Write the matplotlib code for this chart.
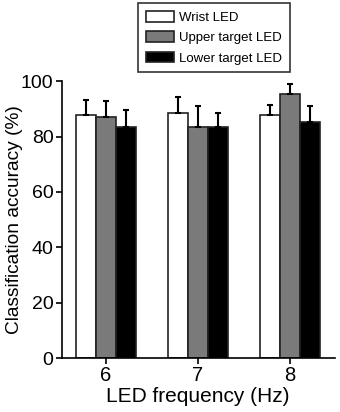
import numpy as np
import matplotlib.pyplot as plt
from matplotlib.patches import Patch

plt.rcParams['font.family'] = ['Liberation Sans', 'DejaVu Sans']

# 数据
freqs = ['6', '7', '8']
series_names = ['Wrist LED', 'Upper target LED', 'Lower target LED']
wrist = [87.8, 88.6, 87.7]
upper = [86.9, 83.5, 95.2]
lower = [83.5, 83.5, 85.3]
wrist_err = [5.4, 5.6, 3.6]
upper_err = [5.8, 7.5, 3.7]
lower_err = [6.0, 4.9, 5.7]

colors = ['white', '#7a7a7a', 'black']

fig = plt.figure(figsize=(3.4, 4.12), dpi=100)
ax = fig.add_axes([0.182, 0.131, 0.803, 0.672])

x = np.arange(len(freqs))
w = 0.22
vals = [wrist, upper, lower]
errs = [wrist_err, upper_err, lower_err]
for i, (v, e, c) in enumerate(zip(vals, errs, colors)):
    pos = x + (i - 1) * w
    ax.bar(pos, v, width=w, color=c, edgecolor='#222222', linewidth=1.2)
    ax.errorbar(pos, v, yerr=[np.zeros(len(e)), e], fmt='none',
                ecolor='black', elinewidth=1.5, capsize=2, capthick=1.5)

ax.set_xlim(-0.48, 2.49)
ax.set_ylim(0, 100)
ax.set_xticks(x)
ax.set_xticklabels(freqs)
ax.set_yticks([0, 20, 40, 60, 80, 100])
ax.spines['top'].set_visible(False)
ax.spines['right'].set_visible(False)
ax.spines['left'].set_linewidth(1.2)
ax.spines['bottom'].set_linewidth(1.2)
ax.tick_params(direction='out', length=4, width=1.2, labelsize=14, pad=2)
ax.tick_params(axis='x', labelsize=14.5)
ax.set_xlabel('LED frequency (Hz)', fontsize=15)
ax.set_ylabel('Classification accuracy (%)', fontsize=13.8)
ax.xaxis.set_label_coords(0.498, -0.104)
ax.yaxis.set_label_coords(-0.143, 0.50)

handles = [Patch(facecolor=c, edgecolor='#222222', linewidth=1.2) for c in colors]
leg = fig.legend(handles, series_names, loc='upper left',
                 bbox_to_anchor=(138 / 340, 1 - 3 / 412), borderaxespad=0,
                 fontsize=9.5, frameon=True, fancybox=False, edgecolor='black',
                 handlelength=2.1, handleheight=0.88, borderpad=0.6,
                 labelspacing=0.56, handletextpad=0.4)
leg.get_frame().set_linewidth(1.2)

plt.savefig('out.png', dpi=100)
